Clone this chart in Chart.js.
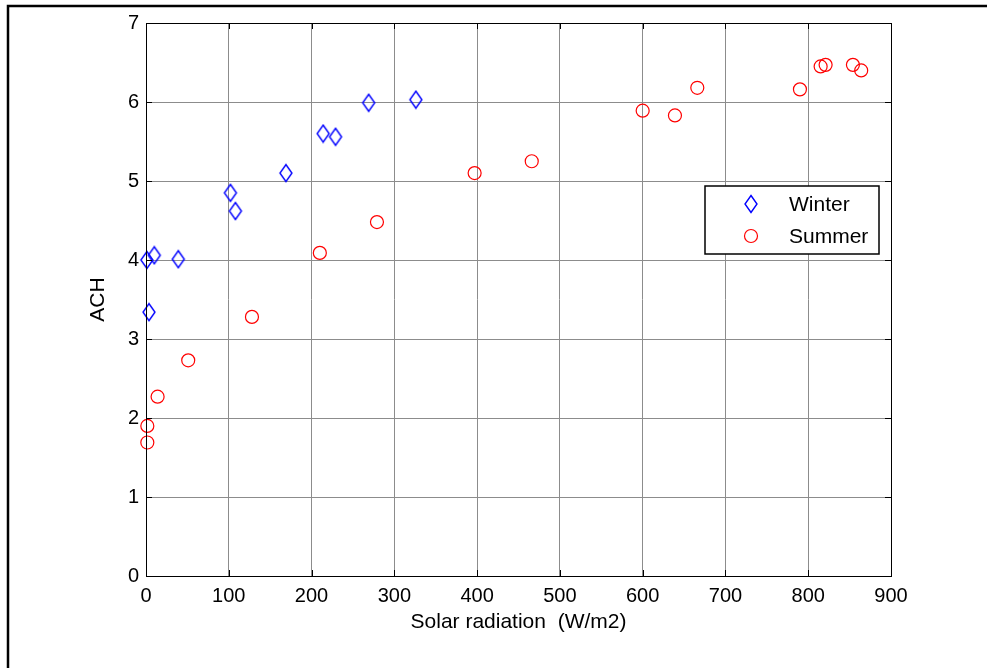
<!DOCTYPE html>
<html lang="en">
<head>
    <meta charset="UTF-8">
    <title>ACH vs solar radiation</title>
    <script src="https://cdn.jsdelivr.net/npm/chart.js@4.4.0/dist/chart.umd.min.js"></script>
    <style>
        body { margin: 0; background: #fff; }
        canvas { display: block; }
    </style>
</head>
<body>
    <canvas id="myChart" width="987" height="668"></canvas>
</body>
<script>
    // measured points: solar radiation (W/m2) against air changes per hour
    var winterRad = [1, 10, 3.6, 39, 102, 108, 169, 214, 229, 269, 326];
    var winterAch = [4.0, 4.06, 3.34, 4.01, 4.85, 4.62, 5.10, 5.60, 5.56, 5.99, 6.03];
    var summerRad = [1.6, 1.6, 14, 51, 128, 210, 279, 397, 466, 600, 639, 666, 790, 815, 821, 854, 864];
    var summerAch = [1.69, 1.90, 2.27, 2.73, 3.28, 4.09, 4.48, 5.10, 5.25, 5.89, 5.83, 6.18, 6.16, 6.45, 6.47, 6.47, 6.40];
    var xTicks = [0, 100, 200, 300, 400, 500, 600, 700, 800, 900];
    var yTicks = [0, 1, 2, 3, 4, 5, 6, 7];

    var FONT = 'Liberation Sans, Arial, sans-serif';

    function pairs(xs, ys) {
        return xs.map((x, i) => ({ x: x, y: ys[i] }));
    }

    // tall narrow diamond marker, like the matlab 'd' style
    function diamond(color) {
        var c = document.createElement('canvas');
        c.width = 16; c.height = 20;
        var g = c.getContext('2d');
        g.strokeStyle = color;
        g.lineWidth = 1.4;
        g.beginPath();
        g.moveTo(8, 1.5);
        g.lineTo(14, 10);
        g.lineTo(8, 18.5);
        g.lineTo(2, 10);
        g.closePath();
        g.stroke();
        return c;
    }

    // outer figure frame, box around the axes and inward tick marks
    var framePlugin = {
        id: 'frame',
        afterDatasetsDraw(chart) {
            var ctx = chart.ctx, a = chart.chartArea;
            var xs = chart.scales.x, ys = chart.scales.y;
            ctx.save();
            ctx.strokeStyle = '#000';
            ctx.lineWidth = 1;
            ctx.strokeRect(a.left + 0.5, a.top + 0.5, a.right - a.left, a.bottom - a.top);
            ctx.beginPath();
            xTicks.forEach((v) => {
                var px = Math.round(xs.getPixelForValue(v)) + 0.5;
                ctx.moveTo(px, a.bottom); ctx.lineTo(px, a.bottom - 6);
                ctx.moveTo(px, a.top); ctx.lineTo(px, a.top + 6);
            });
            yTicks.forEach((v) => {
                var py = Math.round(ys.getPixelForValue(v)) + 0.5;
                ctx.moveTo(a.left, py); ctx.lineTo(a.left + 6, py);
                ctx.moveTo(a.right, py); ctx.lineTo(a.right - 6, py);
            });
            ctx.stroke();
            ctx.lineWidth = 2.5;
            ctx.beginPath();
            ctx.moveTo(8, chart.height); ctx.lineTo(8, 6); ctx.lineTo(chart.width, 6);
            ctx.stroke();
            ctx.restore();
        }
    };

    // legend box inside the axes
    var boxLegend = {
        id: 'boxLegend',
        afterDraw(chart) {
            var ctx = chart.ctx;
            var left = 705, top = 186, w = 174, h = 68;
            ctx.save();
            ctx.fillStyle = '#fff';
            ctx.fillRect(left, top, w, h);
            ctx.strokeStyle = '#000';
            ctx.lineWidth = 1.5;
            ctx.strokeRect(left, top, w, h);
            ctx.font = '21px ' + FONT;
            ctx.textBaseline = 'middle';
            ctx.fillStyle = '#000';
            chart.data.datasets.forEach((ds, i) => {
                var cy = top + 18 + i * 32;
                if (ds.pointStyle instanceof HTMLCanvasElement) {
                    ctx.drawImage(ds.pointStyle, 751 - 8, cy - 10);
                } else {
                    ctx.strokeStyle = ds.borderColor;
                    ctx.lineWidth = 1.2;
                    ctx.beginPath();
                    ctx.arc(751, cy, 6.5, 0, Math.PI * 2);
                    ctx.stroke();
                }
                ctx.fillText(ds.label, 789, cy + 1);
            });
            ctx.restore();
        }
    };

    var gridStyle = {
        color: '#8c8c8c',
        lineWidth: 1,
        drawTicks: false
    };

    var ctx = document.getElementById('myChart').getContext('2d');
    var chart = new Chart(ctx, {
        type: 'scatter',
        data: {
            datasets: [{
                label: 'Winter',
                data: pairs(winterRad, winterAch),
                pointStyle: diamond('#0000ff'),
                borderColor: '#0000ff',
                clip: false
            }, {
                label: 'Summer',
                data: pairs(summerRad, summerAch),
                pointStyle: 'circle',
                pointRadius: 6.5,
                borderColor: '#ff0000',
                backgroundColor: 'rgba(0,0,0,0)',
                borderWidth: 1.2,
                clip: false
            }]
        },
        options: {
            responsive: false,
            animation: false,
            layout: { padding: { top: 23, right: 96, left: 0, bottom: 0 } },
            plugins: {
                legend: { display: false },
                tooltip: { enabled: false }
            },
            scales: {
                x: {
                    type: 'linear',
                    min: 0, max: 900,
                    afterBuildTicks: (s) => { s.ticks = xTicks.map((v) => ({ value: v })); },
                    afterFit: (s) => { s.height = 92; },
                    grid: gridStyle,
                    border: { color: '#000', width: 1 },
                    ticks: { color: '#000', padding: 8, maxRotation: 0, font: { family: FONT, size: 20 } },
                    title: {
                        display: true,
                        text: 'Solar radiation  (W/m2)',
                        color: '#000',
                        font: { family: FONT, size: 21 },
                        padding: { top: 0, bottom: 33 }
                    }
                },
                y: {
                    min: 0, max: 7,
                    afterBuildTicks: (s) => { s.ticks = yTicks.map((v) => ({ value: v })); },
                    afterFit: (s) => { s.width = 146; },
                    grid: gridStyle,
                    border: { color: '#000', width: 1 },
                    ticks: { color: '#000', padding: 7, font: { family: FONT, size: 20 } },
                    title: {
                        display: true,
                        text: 'ACH',
                        color: '#000',
                        font: { family: FONT, size: 21 },
                        padding: { top: 86, bottom: 0 }
                    }
                }
            }
        },
        plugins: [framePlugin, boxLegend]
    });
</script>
</html>
